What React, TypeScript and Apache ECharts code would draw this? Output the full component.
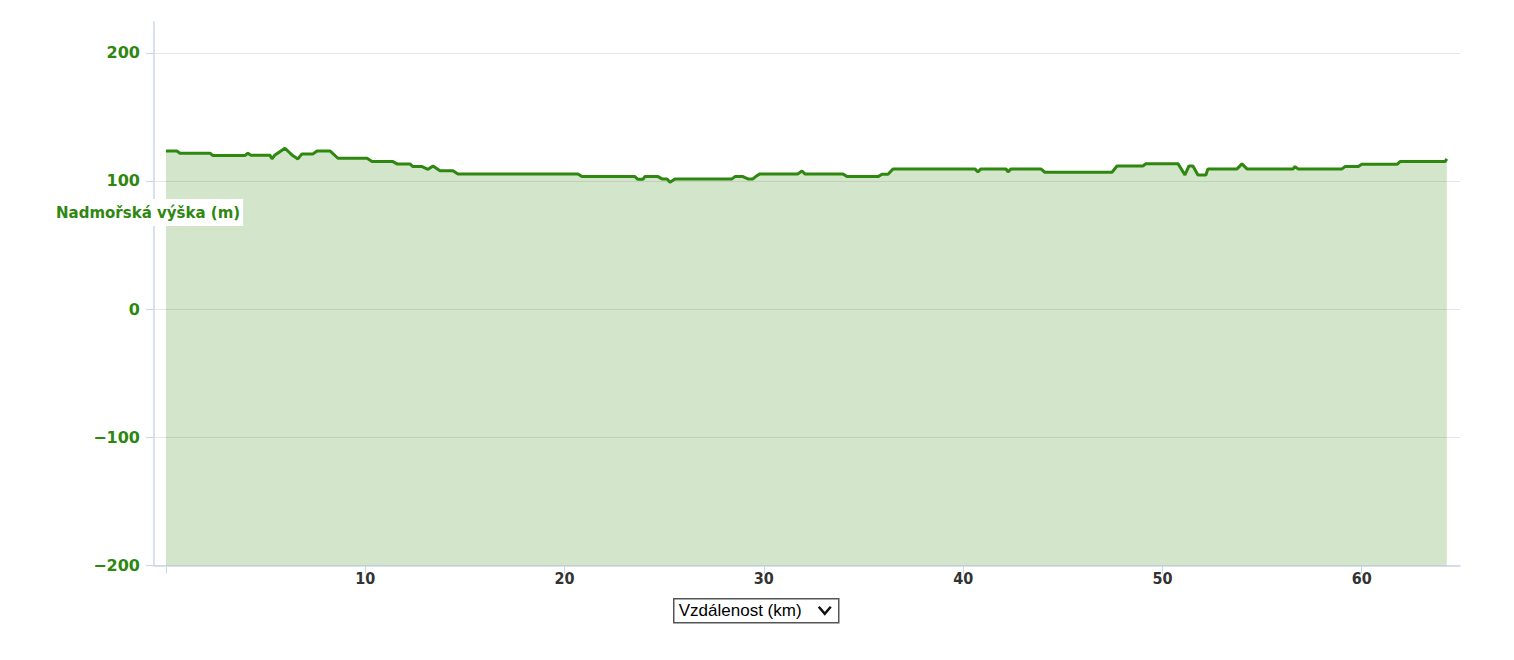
import React, { useEffect, useRef } from 'react';
import * as echarts from 'echarts';

// 距离 (km) 与 海拔 (m)
const distances: number[] = [
  0, 0.55, 0.7, 2.21, 2.36, 3.96, 4.11, 4.26, 5.22, 5.32, 5.47, 5.97, 6.32, 6.62, 6.82, 7.38,
  7.58, 8.23, 8.63, 10.09, 10.34, 11.39, 11.59, 12.24, 12.39, 12.85, 13.15, 13.4, 13.75, 14.4,
  14.65, 20.67, 20.87, 23.53, 23.68, 23.93, 24.03, 24.69, 24.89, 25.14, 25.29, 25.54, 28.4,
  28.55, 28.95, 29.2, 29.45, 29.65, 29.8, 31.71, 31.91, 32.06, 33.97, 34.17, 35.73, 35.93,
  36.23, 36.48, 40.59, 40.74, 40.89, 42.15, 42.25, 42.4, 43.9, 44.1, 47.47, 47.72, 49.02,
  49.17, 50.78, 51.13, 51.33, 51.53, 51.78, 52.18, 52.28, 53.74, 53.99, 54.24, 56.55, 56.65,
  56.8, 59.01, 59.16, 59.81, 60.01, 61.77, 61.92, 64.18, 64.27,
];
const elevations: number[] = [
  123.4, 123.4, 121.6, 121.6, 119.8, 119.8, 121.6, 120.1, 120.1, 117.2, 120.3, 125.5, 120.3,
  117.2, 121.1, 121.1, 123.4, 123.4, 117.7, 117.7, 115.1, 115.1, 113.3, 113.3, 111.2, 111.2,
  109.1, 111.7, 108.0, 108.0, 105.5, 105.5, 103.4, 103.4, 101.3, 101.3, 103.4, 103.4, 101.6,
  101.6, 99.0, 101.6, 101.6, 103.4, 103.4, 101.6, 101.6, 104.1, 105.5, 105.5, 107.8, 105.5,
  105.5, 103.4, 103.4, 105.2, 105.2, 109.4, 109.4, 107.0, 109.4, 109.4, 107.0, 109.4, 109.4,
  106.8, 106.8, 111.7, 111.7, 113.5, 113.5, 104.7, 111.7, 111.7, 104.7, 104.7, 109.4, 109.4,
  113.3, 109.4, 109.4, 111.2, 109.4, 109.4, 111.2, 111.2, 113.0, 113.0, 115.1, 115.1, 117.2,
];

// 刻度
const xTicks: number[] = [0, 10, 20, 30, 40, 50, 60];
const xLabels: number[] = [10, 20, 30, 40, 50, 60];
const yTicks: number[] = [-200, -100, 0, 100, 200];

const GREEN = '#2e870f';
const AXIS = '#ccd6eb';

const App: React.FC = () => {
  const chartRef = useRef<HTMLDivElement>(null);

  useEffect(() => {
    document.body.style.margin = '0';
    if (!chartRef.current) return;
    const chart = echarts.init(chartRef.current, undefined, { renderer: 'svg' });

    const option = {
      animation: false,
      grid: { left: 154, right: 54, top: 22, bottom: 94.5 },
      xAxis: {
        type: 'value',
        min: -0.6,
        max: 64.93,
        axisLine: { show: true, onZero: false, lineStyle: { color: AXIS, width: 1.5 } },
        axisTick: {
          show: true,
          length: 8,
          customValues: xTicks,
          lineStyle: { color: AXIS },
        },
        axisLabel: {
          customValues: xLabels,
          color: '#333333',
          fontSize: 16,
          fontWeight: 'bold',
          fontFamily: '"DejaVu Sans Condensed", "Liberation Sans Narrow", "DejaVu Sans", sans-serif',
          margin: 5,
        },
        splitLine: { show: false },
      },
      yAxis: {
        type: 'value',
        min: -200,
        max: 224,
        axisLine: { show: true, onZero: false, lineStyle: { color: AXIS, width: 1.5 } },
        axisTick: {
          show: true,
          length: 8,
          customValues: yTicks,
          lineStyle: { color: AXIS },
        },
        axisLabel: {
          customValues: yTicks,
          color: GREEN,
          fontSize: 16,
          fontWeight: 'bold',
          fontFamily: '"DejaVu Sans", sans-serif',
          margin: 14,
          formatter: (v: number) => String(v).replace('-', '\u2212'),
        },
        splitLine: { show: true, lineStyle: { color: '#e6e6e6', width: 1 } },
      },
      series: [
        {
          type: 'line',
          data: distances.map((d, i) => [d, elevations[i]]),
          showSymbol: false,
          lineStyle: { color: GREEN, width: 3 },
          itemStyle: { color: GREEN },
          areaStyle: { color: GREEN, opacity: 0.21, origin: 'start' },
          z: 3,
        },
      ],
      graphic: [
        // 纵轴名称
        {
          type: 'text',
          left: 56,
          top: 199,
          z: 10,
          style: {
            text: 'Nadmořská výška (m)',
            fill: GREEN,
            font: 'bold 15px "DejaVu Sans", sans-serif',
            backgroundColor: '#ffffff',
            padding: [6, 3, 6, 0],
          },
        },
        // 下拉框
        {
          type: 'group',
          left: 673,
          top: 598,
          children: [
            {
              type: 'rect',
              shape: { x: 0, y: 0, width: 165, height: 24 },
              style: { fill: '#ffffff', stroke: '#555555', lineWidth: 1.5 },
            },
            {
              type: 'text',
              x: 5,
              y: 12,
              style: {
                text: 'Vzdálenost (km)',
                fill: '#000000',
                font: '17px "Liberation Sans", Arial, sans-serif',
                verticalAlign: 'middle',
              },
            },
            {
              type: 'polyline',
              shape: { points: [[145, 8], [151, 15], [157, 8]] },
              style: { stroke: '#111111', lineWidth: 2.5, fill: 'none' },
            },
          ],
        },
      ],
    };

    chart.setOption(option);

    return () => {
      chart.dispose();
    };
  }, []);

  return <div ref={chartRef} style={{ width: '1514px', height: '660px' }}></div>;
};

export default App;
